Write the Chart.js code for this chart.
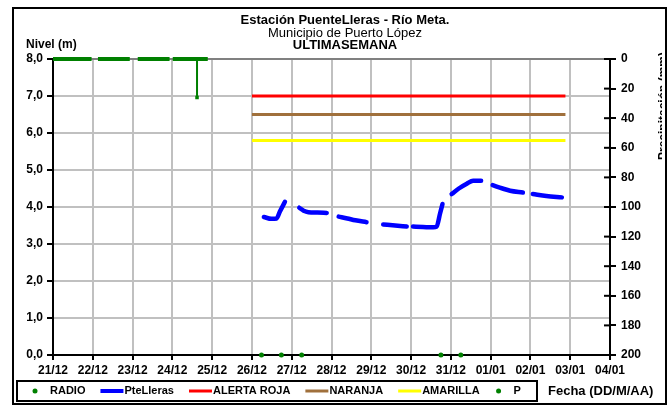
<!DOCTYPE html>
<html lang="es">
<head>
<meta charset="UTF-8">
<title>Estación PuenteLleras - Río Meta</title>
<script src="https://cdn.jsdelivr.net/npm/chart.js"></script>
<style>
  html, body { margin: 0; padding: 0; background: #fff; }
  #caja { width: 669px; height: 408px; }
</style>
</head>
<body>
<div id="caja"><canvas id="grafico" width="669" height="408"></canvas></div>
<script>
// eje x en días desde 21/12 00:00
const fechas = ['21/12', '22/12', '23/12', '24/12', '25/12', '26/12', '27/12', '28/12',
                '29/12', '30/12', '31/12', '01/01', '02/01', '03/01', '04/01'];

// nivel PteLleras (m); los null cortan la línea entre días
const nivelDias    = [5.30, 5.49, 5.62, 5.70, 5.83, 5.95,
                      6.19, 6.30, 6.42, 6.65, 6.88, 7.00,
                      7.18, 7.40, 7.60, 7.88, 8.10,
                      8.30, 8.60, 8.89, 8.97,
                      9.05, 9.30, 9.56, 9.64, 9.73, 9.79, 9.90,
                      10.02, 10.20, 10.40, 10.56, 10.76, 10.90,
                      11.05, 11.30, 11.49, 11.81, 11.95,
                      12.06, 12.40, 12.79];
const nivelValores = [3.73, 3.68, 3.69, 3.87, 4.14, null,
                      3.98, 3.90, 3.86, 3.85, 3.84, null,
                      3.74, 3.69, 3.64, 3.59, null,
                      3.53, 3.50, 3.47, null,
                      3.47, 3.46, 3.45, 3.47, 3.83, 4.08, null,
                      4.35, 4.50, 4.63, 4.71, 4.71, null,
                      4.59, 4.50, 4.44, 4.39, null,
                      4.35, 4.30, 4.26];

// RADIO (m)
const radioDias    = [5.24, 5.74, 6.25, 9.75, 10.25];
const radioValores = [0, 0, 0, 0, 0];

// P (mm), eje derecho invertido
const pDias    = [0.00, 0.97, 1.05, 1.13, 1.93, 2.03, 2.13, 2.93, 2.97, 3.01, 3.62, 3.62, 3.62, 3.89];
const pValores = [0, 0, null, 0, 0, null, 0, 0, null, 0, 0, 26, 0, 0];

// umbrales de alerta (m)
const umbralDias     = [5.0, 12.88];
const alertaRoja     = [7.0, 7.0];
const alertaNaranja  = [6.5, 6.5];
const alertaAmarilla = [5.8, 5.8];

const fuente = 'Arial, "Liberation Sans", sans-serif';
const verde = '#008000';

const puntos = (xs, ys) => xs.map((x, i) => ({ x: x, y: ys[i] }));

Chart.defaults.font.family = fuente;
Chart.defaults.color = '#000';

// marco, títulos, leyenda y marcas interiores del eje derecho
const adornos = {
  id: 'adornos',
  beforeDraw(chart) {
    const ctx = chart.ctx;
    ctx.save();
    ctx.fillStyle = '#fff';
    ctx.fillRect(0, 0, chart.width, chart.height);
    ctx.restore();
  },
  afterDraw(chart) {
    const ctx = chart.ctx;
    ctx.save();
    ctx.fillStyle = '#000';
    ctx.textBaseline = 'middle';

    ctx.textAlign = 'center';
    ctx.font = 'bold 13px ' + fuente;
    ctx.fillText('Estación PuenteLleras - Río Meta.', 345, 20);
    ctx.font = '13px ' + fuente;
    ctx.fillText('Municipio de Puerto López', 345, 33);
    ctx.font = 'bold 13px ' + fuente;
    ctx.fillText('ULTIMASEMANA', 345, 45);

    ctx.textAlign = 'left';
    ctx.font = 'bold 12px ' + fuente;
    ctx.fillText('Nivel (m)', 26, 45);

    // título del eje derecho, recortado por el borde
    ctx.save();
    ctx.beginPath();
    ctx.rect(640, 0, 22, chart.height);
    ctx.clip();
    ctx.translate(658, 52);
    ctx.rotate(-Math.PI / 2);
    ctx.textAlign = 'right';
    ctx.textBaseline = 'top';
    ctx.font = 'bold 12px ' + fuente;
    ctx.fillText('Precipitación (mm)', 0, 0);
    ctx.restore();

    // marcas hacia dentro del eje derecho
    const y2 = chart.scales.y2;
    ctx.strokeStyle = '#000';
    ctx.lineWidth = 2;
    y2.ticks.forEach(t => {
      const py = y2.getPixelForValue(t.value);
      ctx.beginPath();
      ctx.moveTo(chart.chartArea.right - 6, py);
      ctx.lineTo(chart.chartArea.right, py);
      ctx.stroke();
    });

    // leyenda
    const ly = 391;
    ctx.font = 'bold 11px ' + fuente;
    ctx.textBaseline = 'middle';
    let x = 31;
    chart.data.datasets.forEach(ds => {
      if (ds.simbolo === 'punto') {
        ctx.fillStyle = ds.borderColor;
        ctx.beginPath();
        ctx.arc(x + 4, ly, 2.5, 0, Math.PI * 2);
        ctx.fill();
        x += 19;
      } else {
        ctx.strokeStyle = ds.borderColor;
        ctx.lineWidth = ds.simbolo === 'gruesa' ? 4 : 3;
        ctx.beginPath();
        ctx.moveTo(x, ly);
        ctx.lineTo(x + 23, ly);
        ctx.stroke();
        x += 24;
      }
      ctx.fillStyle = '#000';
      ctx.fillText(ds.label, x, ly);
      x += ctx.measureText(ds.label).width + 15;
    });
    ctx.strokeStyle = '#000';
    ctx.lineWidth = 2;
    ctx.strokeRect(17, 381, 520, 20);

    ctx.font = 'bold 13px ' + fuente;
    ctx.fillStyle = '#000';
    ctx.fillText('Fecha (DD/M/AA)', 548, ly);

    // marco exterior
    ctx.lineWidth = 2;
    ctx.strokeRect(13, 8, 653, 396);
    ctx.restore();
  }
};

const ejeTicks = { color: '#000', font: { size: 12, weight: 'bold' } };

new Chart(document.getElementById('grafico'), {
  type: 'line',
  data: {
    datasets: [
      {
        label: 'RADIO', simbolo: 'punto',
        data: puntos(radioDias, radioValores), yAxisID: 'y',
        showLine: false, borderColor: verde, backgroundColor: verde,
        pointRadius: 2.5, pointBorderWidth: 0, clip: false
      },
      {
        label: 'PteLleras', simbolo: 'gruesa',
        data: puntos(nivelDias, nivelValores), yAxisID: 'y',
        borderColor: '#0000ff', borderWidth: 4.5, borderCapStyle: 'round', borderJoinStyle: 'round',
        cubicInterpolationMode: 'monotone', spanGaps: false, pointRadius: 0
      },
      {
        label: 'ALERTA ROJA', simbolo: 'linea',
        data: puntos(umbralDias, alertaRoja), yAxisID: 'y',
        borderColor: '#ff0000', borderWidth: 3, pointRadius: 0, clip: false
      },
      {
        label: 'NARANJA', simbolo: 'linea',
        data: puntos(umbralDias, alertaNaranja), yAxisID: 'y',
        borderColor: '#a0703c', borderWidth: 3, pointRadius: 0, clip: false
      },
      {
        label: 'AMARILLA', simbolo: 'linea',
        data: puntos(umbralDias, alertaAmarilla), yAxisID: 'y',
        borderColor: '#ffff00', borderWidth: 3, pointRadius: 0, clip: false
      },
      {
        label: 'P', simbolo: 'punto',
        data: puntos(pDias, pValores), yAxisID: 'y2',
        borderColor: verde, backgroundColor: verde, spanGaps: false, clip: false,
        borderWidth: 4,
        segment: { borderWidth: c => (c.p0.parsed.y > 0 || c.p1.parsed.y > 0) ? 2 : 4 },
        pointStyle: 'rect',
        pointRadius: c => (c.raw && c.raw.y > 0) ? 2.5 : 0,
        pointBorderWidth: 0
      }
    ]
  },
  options: {
    responsive: false,
    animation: false,
    events: [],
    layout: { padding: { left: 0, right: 0, top: 59, bottom: 31 } },
    plugins: { legend: { display: false }, title: { display: false }, tooltip: { enabled: false } },
    scales: {
      x: {
        type: 'linear', min: 0, max: 14,
        ticks: Object.assign({ stepSize: 1, autoSkip: false, maxRotation: 0, padding: 3,
                               callback: v => fechas[v] }, ejeTicks),
        grid: { color: '#c0c0c0', lineWidth: 2, tickColor: '#000', tickLength: 5 },
        border: { color: '#000', width: 2 },
        afterFit: s => { s.height = 22; }
      },
      y: {
        position: 'left', min: 0, max: 8,
        ticks: Object.assign({ stepSize: 1, padding: 4,
                               callback: v => v.toFixed(1).replace('.', ',') }, ejeTicks),
        grid: {
          color: c => (c.tick && c.tick.value === 8) ? '#808080' : '#c0c0c0',
          lineWidth: 2, tickColor: '#000', tickLength: 6
        },
        border: { color: '#000', width: 2 },
        afterFit: s => { s.width = 53; }
      },
      y2: {
        position: 'right', min: 0, max: 200, reverse: true,
        ticks: Object.assign({ stepSize: 20, padding: 5 }, ejeTicks),
        grid: { drawOnChartArea: false, tickColor: '#000', tickLength: 6, lineWidth: 2 },
        border: { color: '#000', width: 2 },
        afterFit: s => { s.width = 59; }
      }
    }
  },
  plugins: [adornos]
});
</script>
</body>
</html>
